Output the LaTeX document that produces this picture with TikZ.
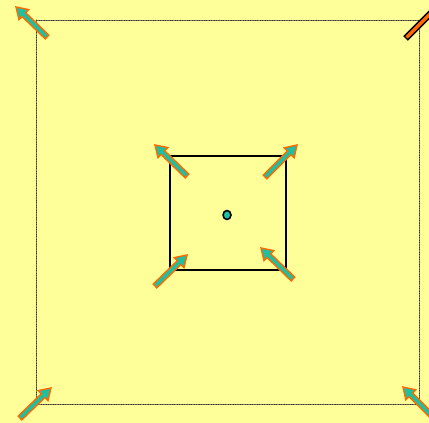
\documentclass[tikz,border=0pt]{standalone}
\usetikzlibrary{calc,shapes.geometric}
\definecolor{paper}{HTML}{FFFF99}
\definecolor{teal}{HTML}{1FBF9F}
\definecolor{flame}{HTML}{FF6A00}
\newcommand{\fatarrow}[4]{%
  \coordinate (h) at ($(#2)!11pt!(#1)$);
  \filldraw[fill=#3,draw=#4,line width=1.4pt,line join=miter]
    ($(#1)!2.6pt!90:(#2)$) -- ($(h)!2.6pt!-90:(#1)$) -- ($(h)!7pt!-90:(#1)$) -- (#2)
    -- ($(h)!7pt!90:(#1)$) -- ($(h)!2.6pt!90:(#1)$) -- ($(#1)!2.6pt!-90:(#2)$) -- cycle;}
\begin{document}
\begin{tikzpicture}[x=1pt,y=-1pt,line cap=round,line join=round]
  \clip (0,0) rectangle (429,423);
  \fill[paper] (0,0) rectangle (429,423);
  \draw[densely dotted,black!80,line width=0.7pt] (36,20) rectangle (419,404);
  \draw[line width=1.6pt] (170,156) rectangle (286,270);
  \node[ellipse,draw,line width=1.6pt,fill=teal,minimum width=8pt,minimum height=9pt,inner sep=0pt] (dot) at (227,215) {};

  % outer corners
  \coordinate (tlA) at (47,37);   \coordinate (tlB) at (16,7);
  \coordinate (trA) at (406,38);  \coordinate (trB) at (450,-6);
  \coordinate (blA) at (20,418);  \coordinate (blB) at (51,388);
  \coordinate (brA) at (434,418); \coordinate (brB) at (403,387);
  % inner corners
  \coordinate (itlA) at (187,176); \coordinate (itlB) at (155,145);
  \coordinate (itrA) at (265,177); \coordinate (itrB) at (297,145);
  \coordinate (iblA) at (155,286); \coordinate (iblB) at (187,255);
  \coordinate (ibrA) at (293,279); \coordinate (ibrB) at (261,248);

  \fatarrow{tlA}{tlB}{teal}{flame}
  \fatarrow{trA}{trB}{flame}{black}
  \fatarrow{blA}{blB}{teal}{flame}
  \fatarrow{brA}{brB}{teal}{flame}
  \fatarrow{itlA}{itlB}{teal}{flame}
  \fatarrow{itrA}{itrB}{teal}{flame}
  \fatarrow{iblA}{iblB}{teal}{flame}
  \fatarrow{ibrA}{ibrB}{teal}{flame}
\end{tikzpicture}
\end{document}
